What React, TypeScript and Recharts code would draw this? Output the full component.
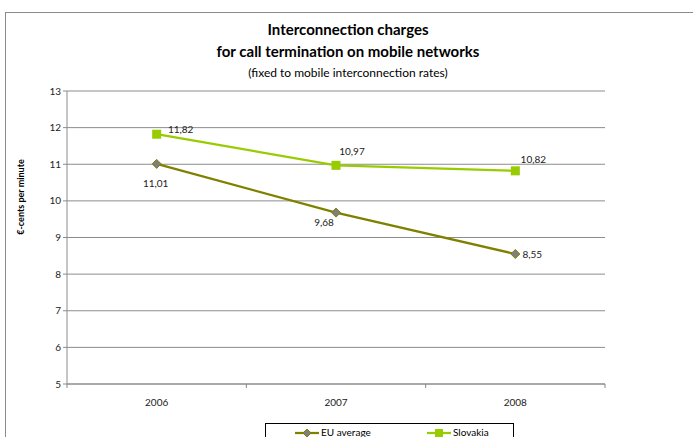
import { CartesianGrid, Line, LineChart, XAxis, YAxis, LabelList } from "recharts";

const years = ["2006", "2007", "2008"];
const euAverage = [11.01, 9.68, 8.55];
const slovakia = [11.82, 10.97, 10.82];
const yTicks = [5, 6, 7, 8, 9, 10, 11, 12, 13];

const FONT = "Lato, 'Liberation Sans', sans-serif";
const EU_COLOR = "#808000";
const SK_COLOR = "#99cc00";

// label offsets (dx, dy) relative to each point
const euLabelOffsets = [
  [-1, 23],
  [-12, 13],
  [17, 4],
];
const skLabelOffsets = [
  [24, -1],
  [16, -10],
  [18, -8],
];

const data = years.map((year, i) => ({
  x: i + 0.5,
  year,
  eu: euAverage[i],
  sk: slovakia[i],
}));

const fmt = (v: number) => v.toFixed(2).replace(".", ",");

const makeLabel = (offsets: number[][]) => (props: any) => {
  const { x, y, value, index } = props;
  const [dx, dy] = offsets[index];
  return (
    <text
      x={x + dx}
      y={y + dy}
      textAnchor="middle"
      fontSize={10}
      fontFamily={FONT}
      fill="#222"
    >
      {fmt(value)}
    </text>
  );
};

const Diamond = (props: any) => {
  const { cx, cy } = props;
  const r = 4.5;
  return (
    <path
      d={`M${cx},${cy - r}L${cx + r},${cy}L${cx},${cy + r}L${cx - r},${cy}Z`}
      fill="#7f7f7f"
      stroke={EU_COLOR}
      strokeWidth={1}
    />
  );
};

const Square = (props: any) => {
  const { cx, cy } = props;
  return <rect x={cx - 4.5} y={cy - 4.5} width={9} height={9} fill={SK_COLOR} />;
};

const XTick = (props: any) => {
  const { x, y, payload } = props;
  const v = payload.value;
  if (Number.isInteger(v)) {
    return <line x1={x} x2={x} y1={y - 8} y2={y - 4} stroke="#868686" />;
  }
  return (
    <text x={x} y={y + 14} textAnchor="middle" fontSize={10} fontFamily={FONT} fill="#222">
      {years[Math.floor(v)]}
    </text>
  );
};

export default function App() {
  return (
    <div style={{ position: "fixed", left: 0, top: 0, width: 693, height: 437, background: "#fff", overflow: "hidden" }}>
      <div
        style={{
          position: "absolute",
          left: 5,
          top: 12,
          width: 720,
          height: 460,
          border: "1px solid #8a8a8a",
          boxSizing: "border-box",
        }}
      />
      <div style={{ position: "absolute", left: 0, width: 696, top: 18, textAlign: "center", fontFamily: FONT, color: "#000" }}>
        <div style={{ fontSize: 15, fontWeight: 700, lineHeight: "22px" }}>Interconnection charges</div>
        <div style={{ fontSize: 15, fontWeight: 700, lineHeight: "22px" }}>for call termination on mobile networks</div>
        <div style={{ fontSize: 12, lineHeight: "22px" }}>(fixed to mobile interconnection rates)</div>
      </div>
      <div
        style={{
          position: "absolute",
          left: 20,
          top: 197,
          transform: "translate(-50%, -50%) rotate(-90deg)",
          fontFamily: FONT,
          fontSize: 9,
          fontWeight: 700,
          whiteSpace: "nowrap",
        }}
      >
        €-cents per minute
      </div>
      <LineChart
        width={693}
        height={437}
        data={data}
        margin={{ top: 91, right: 88, bottom: 0, left: 0 }}
        style={{ position: "absolute", left: 0, top: 0 }}
      >
        <CartesianGrid vertical={false} stroke="#8c8c8c" strokeWidth={1} />
        <XAxis
          dataKey="x"
          type="number"
          domain={[0, 3]}
          ticks={[0, 0.5, 1, 1.5, 2, 2.5, 3]}
          interval={0}
          tick={<XTick />}
          tickLine={false}
          axisLine={{ stroke: "#8c8c8c" }}
          height={53}
        />
        <YAxis
          type="number"
          domain={[5, 13]}
          ticks={yTicks}
          interval={0}
          width={67}
          tick={{ fontSize: 10, fontFamily: FONT, fill: "#222" }}
          tickLine={{ stroke: "#8c8c8c" }}
          tickSize={4}
          axisLine={{ stroke: "#8c8c8c" }}
        />
        <Line
          dataKey="eu"
          stroke={EU_COLOR}
          strokeWidth={2.25}
          dot={<Diamond />}
          isAnimationActive={false}
        >
          <LabelList dataKey="eu" content={makeLabel(euLabelOffsets)} />
        </Line>
        <Line
          dataKey="sk"
          stroke={SK_COLOR}
          strokeWidth={2.25}
          dot={<Square />}
          isAnimationActive={false}
        >
          <LabelList dataKey="sk" content={makeLabel(skLabelOffsets)} />
        </Line>
      </LineChart>
      <div
        style={{
          position: "absolute",
          left: 265,
          top: 423,
          width: 249,
          height: 30,
          border: "1px solid #000",
          boxSizing: "border-box",
          fontFamily: FONT,
          fontSize: 10,
        }}
      >
        <svg width={24} height={10} style={{ position: "absolute", left: 29, top: 4 }}>
          <line x1={0} x2={24} y1={5} y2={5} stroke={EU_COLOR} strokeWidth={2.25} />
          <path d="M12,1L16,5L12,9L8,5Z" fill="#7f7f7f" stroke={EU_COLOR} />
        </svg>
        <span style={{ position: "absolute", left: 55, top: 2 }}>EU average</span>
        <svg width={24} height={10} style={{ position: "absolute", left: 161, top: 4 }}>
          <line x1={0} x2={24} y1={5} y2={5} stroke={SK_COLOR} strokeWidth={2.25} />
          <rect x={8} y={1} width={8} height={8} fill={SK_COLOR} />
        </svg>
        <span style={{ position: "absolute", left: 187, top: 2 }}>Slovakia</span>
      </div>
    </div>
  );
}
